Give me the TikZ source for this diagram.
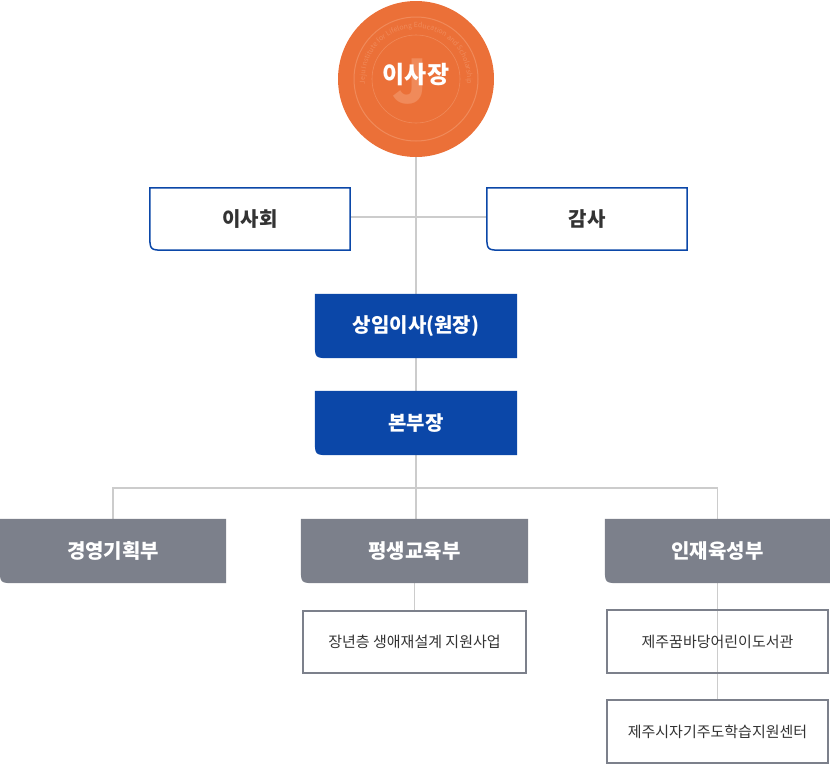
\documentclass[tikz,border=0pt]{standalone}
\usepackage{fontspec}
\setmainfont{Noto Sans CJK KR}
\usetikzlibrary{backgrounds,decorations.text}
\definecolor{org}{HTML}{EB7038}
\definecolor{orgl}{HTML}{F08A5A}
\definecolor{bl}{HTML}{0B47A8}
\definecolor{gr}{HTML}{7C808B}
\definecolor{ln}{HTML}{CCCCCC}
\definecolor{tx}{HTML}{333333}
\begin{document}
\begin{tikzpicture}[x=1pt,y=-1pt,
  box/.style={minimum width=#1, minimum height=62pt, inner sep=0pt},
  wt/.style={font=\bfseries\fontsize{20}{22}\selectfont,text=white},
  dt/.style={font=\bfseries\fontsize{20}{22}\selectfont,text=tx},
  st/.style={font=\fontsize{15}{18}\selectfont,text=tx},
  conn/.style={draw=ln,line width=1.5pt}]
\useasboundingbox (0,0) rectangle (830,764);
\newcommand\myshape[2]{%
  \path[#2] (#1.north west) -- (#1.north east) -- (#1.south east) -- ([xshift=16pt]#1.south west) .. controls (#1.south west) .. ([yshift=16pt]#1.south west) -- cycle;}
\node[circle,fill=org,minimum size=156pt,inner sep=0pt] (ceo) at (416,79) {};
\draw[orgl,line width=1pt] (ceo.center) circle (62pt);
\draw[orgl,line width=0.6pt] (ceo.center) circle (44pt);
\begin{scope}[shift={(ceo.center)},x=1pt,y=1pt]
\path[decorate,decoration={text along path,text={|\fontsize{7}{8}\selectfont\color{orgl}|Jeju Institute for Lifelong Education and Scholarship},text align=center}] (205:51) arc[start angle=205,end angle=-25,radius=51];
\end{scope}
\node[font=\bfseries\fontsize{60}{60}\selectfont,text=orgl] at (410,82) {J};
\node[wt,font=\bfseries\fontsize{24}{26}\selectfont] (ceot) at (416,75) {이사장};
\node[box=200pt] (board) at (250,219) {};
\node[box=200pt] (audit) at (587,219) {};
\node[box=202pt,minimum height=64pt] (exec) at (416,326) {};
\node[box=202pt,minimum height=64pt] (hq) at (416,423) {};
\node[box=226pt,minimum height=64pt] (d1) at (113,551) {};
\node[box=227pt,minimum height=64pt] (d2) at (414.5,551) {};
\node[box=225pt,minimum height=64pt] (d3) at (717.5,551) {};
\node[box=223pt] (p1) at (414.5,642) {};
\node[box=221pt] (p2) at (717.5,641.5) {};
\node[box=221pt] (p3) at (717.5,731.5) {};
\coordinate (j) at (416,217);
\coordinate (b) at (416,488);
\begin{scope}[on background layer]
\draw[conn] (ceo.south) -- (hq.south);
\draw[conn] (board.east |- j) -- (audit.west |- j);
\draw[conn] (hq.south) -- (b);
\draw[conn] (d1.north) |- (b) -| (d3.north);
\draw[conn] (b) -- (d2.north -| b);
\draw[conn] (d2.south) -- (p1.north);
\draw[conn] (d3.south) -- (p3.north);
\end{scope}
\myshape{board}{fill=white,draw=bl,line width=1.5pt}
\myshape{audit}{fill=white,draw=bl,line width=1.5pt}
\myshape{exec}{fill=bl}
\myshape{hq}{fill=bl}
\myshape{d1}{fill=gr}
\myshape{d2}{fill=gr}
\myshape{d3}{fill=gr}
\draw[gr,line width=2pt] (p1.south west) rectangle (p1.north east);
\draw[gr,line width=2pt] (p2.south west) rectangle (p2.north east);
\draw[gr,line width=2pt] (p3.south west) rectangle (p3.north east);
\node[dt] at (board) {이사회};
\node[dt] at (audit) {감사};
\node[wt] at (exec) {상임이사(원장)};
\node[wt] at (hq) {본부장};
\node[wt] at (d1) {경영기획부};
\node[wt] at (d2) {평생교육부};
\node[wt] at (d3) {인재육성부};
\node[st] at (p1) {장년층 생애재설계 지원사업};
\node[st] at (p2) {제주꿈바당어린이도서관};
\node[st] at (p3) {제주시자기주도학습지원센터};
\end{tikzpicture}
\end{document}
